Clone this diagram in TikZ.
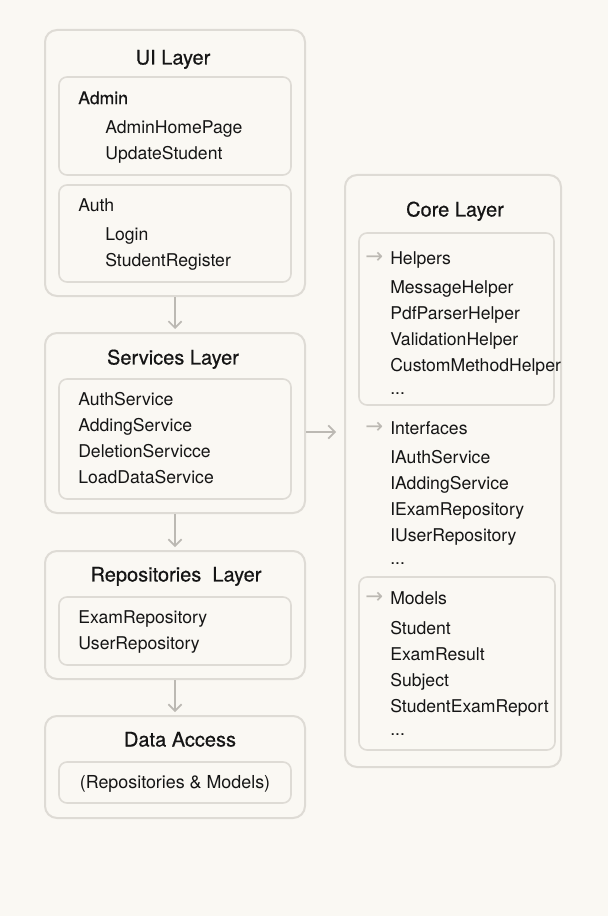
\documentclass[tikz,border=0pt]{standalone}
\usepackage{fontspec}
\setmainfont{TeX Gyre Heros}
\newfontfamily\titlefont[FakeBold=0.5]{TeX Gyre Heros}
\newfontfamily\symfont{DejaVu Sans}
\usetikzlibrary{arrows.meta,fit}
\definecolor{bg}{HTML}{FAF8F3}
\definecolor{boxline}{HTML}{DEDBD5}
\definecolor{ink}{HTML}{151515}
\definecolor{arr}{HTML}{BCB9B3}
\begin{document}
\begin{tikzpicture}[x=0.75pt,y=-0.75pt,
  outerbox/.style={draw=boxline, line width=1.5pt, rounded corners=9pt, inner sep=0pt},
  innerbox/.style={draw=boxline, line width=1.2pt, rounded corners=6pt, inner sep=0pt},
  title/.style={font=\titlefont\fontsize{15}{18}\selectfont, text=ink, inner sep=0pt, anchor=mid, yshift=-2.25pt},
  item/.style={font=\fontsize{13.2}{16}\selectfont, text=ink, inner sep=0pt, anchor=mid west, yshift=-2pt},
  head/.style={font=\titlefont\fontsize{13.2}{16}\selectfont, text=ink, inner sep=0pt, anchor=mid west, yshift=-2pt},
  arrmark/.style={font=\symfont\fontsize{16}{18}\selectfont, text=arr, inner sep=0pt, anchor=mid west, yshift=-1.5pt},
  conn/.style={draw=arr, line width=1.2pt, -{Straight Barb[length=5pt,width=10pt]}}]
\fill[bg] (0,0) rectangle (608,916);
\useasboundingbox (0,0) rectangle (608,916);

% ---------- UI layer
\node[outerbox, fit={(45,30) (305,296)}] (ui) {};
\node[title] (uit) at (173,58) {UI Layer};
\node[innerbox, fit={(59,77) (291,175)}] (admin) {};
\node[head] (admint) at (78,98) {Admin};
\node[item] (a1) at (105,127) {AdminHomePage};
\node[item] (a2) at (105,153) {UpdateStudent};
\node[innerbox, fit={(59,185) (291,282)}] (auth) {};
\node[item] (autht) at (78,205) {Auth};
\node[item] (u1) at (105,234) {Login};
\node[item] (u2) at (105,260) {StudentRegister};

% ---------- Services layer
\node[outerbox, fit={(45,333) (305,513)}] (svc) {};
\node[title] (svct) at (173,358) {Services Layer};
\node[innerbox, fit={(59,379) (291,499)}] (svcin) {};
\node[item] (s1) at (78,399) {AuthService};
\node[item] (s2) at (78,425) {AddingService};
\node[item] (s3) at (78,451) {DeletionServicce};
\node[item] (s4) at (78,477) {LoadDataService};

% ---------- Repositories layer
\node[outerbox, fit={(45,551) (305,679)}] (repo) {};
\node[title] (repot) at (176,575) {Repositories\ \ Layer};
\node[innerbox, fit={(59,597) (291,665)}] (repoin) {};
\node[item] (r1) at (78,617) {ExamRepository};
\node[item] (r2) at (78,643) {UserRepository};

% ---------- Data access
\node[outerbox, fit={(45,716) (305,818)}] (da) {};
\node[title] (dat) at (180,740) {Data Access};
\node[innerbox, fit={(59,762) (291,803)}] (dain) {};
\node[font=\fontsize{13.4}{16}\selectfont, text=ink, inner sep=0pt, anchor=mid, yshift=-2pt] (dat2) at (175,782) {(Repositories \& Models)};

% ---------- Core layer
\node[outerbox, fit={(345,175) (561,767)}] (core) {};
\node[title] (coret) at (455,210) {Core Layer};
\node[innerbox, fit={(359,233) (554,405)}] (helpers) {};
\node[arrmark] (m1) at (365,258) {→};
\node[item] (ht) at (390,258) {Helpers};
\node[item] (h1) at (390,287) {MessageHelper};
\node[item] (h2) at (390,313) {PdfParserHelper};
\node[item] (h3) at (390,339) {ValidationHelper};
\node[item] (h4) at (390,365) {CustomMethodHelper};
\node[item] (h5) at (390,388) {...};
\node[arrmark] (m2) at (365,428) {→};
\node[item] (it) at (390,428) {Interfaces};
\node[item] (i1) at (390,457) {IAuthService};
\node[item] (i2) at (390,483) {IAddingService};
\node[item] (i3) at (390,509) {IExamRepository};
\node[item] (i4) at (390,535) {IUserRepository};
\node[item] (i5) at (390,558) {...};
\node[innerbox, fit={(359,577) (555,750)}] (models) {};
\node[arrmark] (m3) at (365,598) {→};
\node[item] (mt) at (390,598) {Models};
\node[item] (o1) at (390,628) {Student};
\node[item] (o2) at (390,654) {ExamResult};
\node[item] (o3) at (390,680) {Subject};
\node[item] (o4) at (390,706) {StudentExamReport};
\node[item] (o5) at (390,729) {...};

% ---------- connectors
\draw[conn, shorten >=2.25pt] (ui) -- (svc);
\draw[conn, shorten >=2.25pt] (svc) -- (repo);
\draw[conn, shorten >=2.25pt] (repo) -- (da);
\coordinate (ay) at (320,432);
\draw[conn, shorten >=6pt] (svc.east |- ay) -- (core.west |- ay);
\end{tikzpicture}
\end{document}
